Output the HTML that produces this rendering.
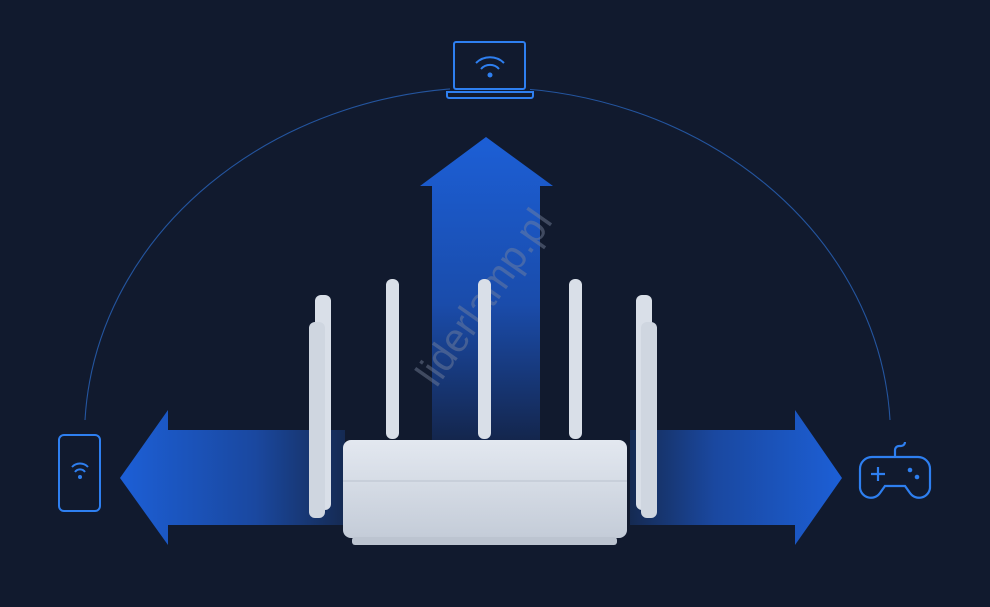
<!DOCTYPE html>
<html><head><style>
html,body{margin:0;padding:0;background:#111a2e;}
svg{display:block}
</style></head><body>
<svg width="990" height="607" viewBox="0 0 990 607" xmlns="http://www.w3.org/2000/svg">
<defs>
<linearGradient id="up" x1="0" y1="0" x2="0" y2="1">
<stop offset="0" stop-color="#1c5fd6"/><stop offset="0.55" stop-color="#1a4cab"/><stop offset="1" stop-color="#14264d"/></linearGradient>
<linearGradient id="lt" x1="0" y1="0" x2="1" y2="0">
<stop offset="0" stop-color="#1c5fd6"/><stop offset="0.6" stop-color="#1a48a0"/><stop offset="1" stop-color="#152a52"/></linearGradient>
<linearGradient id="rt" x1="1" y1="0" x2="0" y2="0">
<stop offset="0" stop-color="#1c5fd6"/><stop offset="0.6" stop-color="#1a48a0"/><stop offset="1" stop-color="#152a52"/></linearGradient>
<linearGradient id="body" x1="0" y1="0" x2="0" y2="1">
<stop offset="0" stop-color="#e3e8f0"/><stop offset="1" stop-color="#c4ccd8"/></linearGradient>
</defs>
<rect width="990" height="607" fill="#111a2e"/>
<path d="M85 420 A403 350 0 0 1 890 420" fill="none" stroke="#24559f" stroke-width="1.1"/>
<polygon points="486,137 553,186 540,186 540,440 432,440 432,186 420,186" fill="url(#up)"/>
<polygon points="120,478 168,410 168,430 345,430 345,525 168,525 168,545" fill="url(#lt)"/>
<polygon points="842,478 795,410 795,430 630,430 630,525 795,525 795,545" fill="url(#rt)"/>
<text x="0" y="0" transform="translate(495,305) rotate(-55)" text-anchor="middle" font-family="Liberation Sans, sans-serif" font-size="40" fill="#7a859e" fill-opacity="0.45">liderlamp.pl</text>
<g fill="#d9dfe8">
<rect x="315" y="295" width="16" height="215" rx="6"/>
<rect x="309" y="322" width="16" height="196" rx="6" fill="#cfd6e0"/>
<rect x="386" y="279" width="13" height="160" rx="6"/>
<rect x="478" y="279" width="13" height="160" rx="6"/>
<rect x="569" y="279" width="13" height="160" rx="6"/>
<rect x="636" y="295" width="16" height="215" rx="6"/>
<rect x="641" y="322" width="16" height="196" rx="6" fill="#cfd6e0"/>
</g>
<rect x="343" y="440" width="284" height="98" rx="8" fill="url(#body)"/>
<rect x="343" y="480" width="284" height="2" fill="#c8cfda"/>
<rect x="352" y="537" width="265" height="8" rx="3" fill="#bcc4d0"/>
<rect x="450" y="40" width="80" height="60" fill="#111a2e"/>
<g fill="none" stroke="#2e7ff0" stroke-width="2">
<rect x="454" y="42" width="71" height="47" rx="2"/>
<path d="M447 92 H533 V96 a2 2 0 0 1 -2 2 H449 a2 2 0 0 1 -2 -2 Z"/>
<path d="M476 63 a20 20 0 0 1 28 0 M481 69 a12 12 0 0 1 18 0"/>
</g>
<circle cx="490" cy="75" r="2.5" fill="#2e7ff0"/>
<g fill="none" stroke="#2e7ff0" stroke-width="2">
<rect x="59" y="435" width="41" height="76" rx="5"/>
<path d="M72 467 a11 11 0 0 1 16 0 M75 472 a6 6 0 0 1 10 0"/>
</g>
<circle cx="80" cy="477" r="2" fill="#2e7ff0"/>
<g fill="none" stroke="#2e7ff0" stroke-width="2.2">
<path d="M872 457 H918 a12 12 0 0 1 12 12 V488 a11 11 0 0 1 -20 5 l-5 -7 H885 l-5 7 a11 11 0 0 1 -20 -5 V469 a12 12 0 0 1 12 -12 Z"/>
<path d="M895 457 V450 a4 4 0 0 1 4 -4 h2 a4 4 0 0 0 4 -4"/>
<path d="M871 474 h14 M878 467 v14"/>
</g>
<circle cx="910" cy="470" r="2.3" fill="#2e7ff0"/>
<circle cx="917" cy="477" r="2.3" fill="#2e7ff0"/>
</svg>
</body></html>
